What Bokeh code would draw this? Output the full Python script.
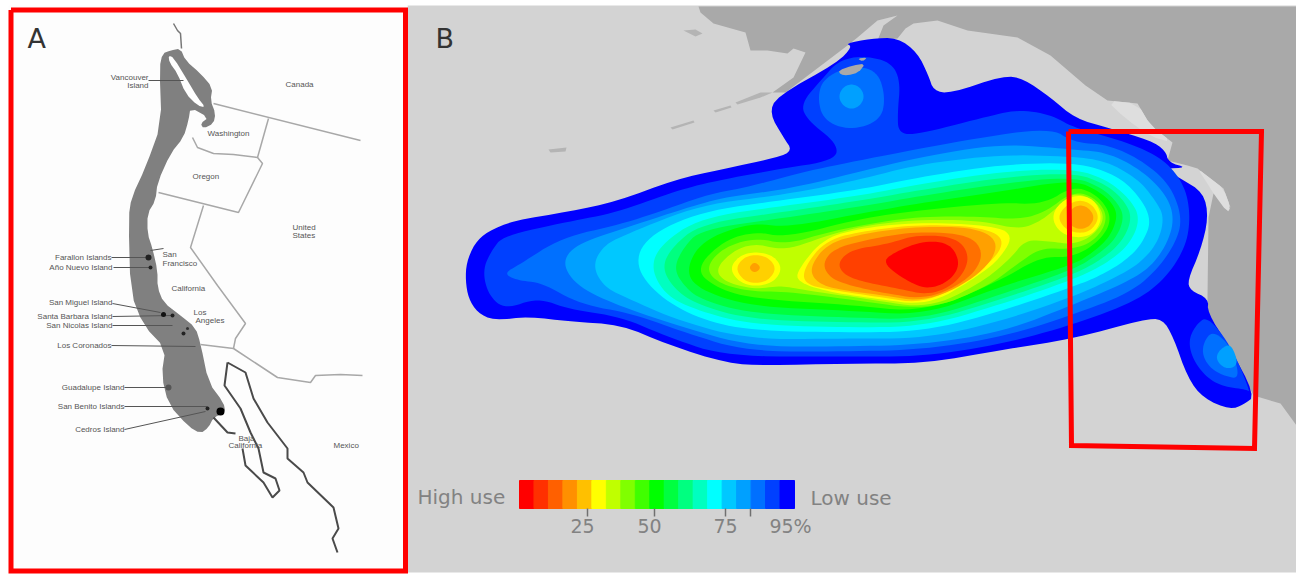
from bokeh.plotting import figure
from bokeh.models import Range1d
from bokeh.core.properties import value
from bokeh.embed import file_html
from bokeh.resources import INLINE

# ---------- usage bands, outermost (low use) to innermost (high use) ----------
band_colors = ["#0000ff", "#0040ff", "#0070ff", "#00a0ff", "#00c8ff", "#00ffff", "#00ffc0",
               "#00ff80", "#00ff40", "#00ff00", "#40ff00", "#80ff00", "#c0ff00", "#ffff00",
               "#ffd000", "#ffa000", "#ff7000", "#ff4000", "#ff0000"]

band00 = [(465,280),(466,262),(474,243),(487,231),(513,220),(569,211),(616,201),(675,179),(720,169),(777,157),(792,150),(783,137),(769,113),(776,96),(837,62),(852,46),(845,43),(870,38),(897,37),(917,52),(928,75),(933,90),(950,93),(1003,75),(1023,78),(1050,97),(1075,118),(1107,127),(1150,140),(1165,150),(1168,162),(1187,167),(1163,168),(1180,178),(1203,192),(1208,217),(1200,250),(1187,280),(1190,290),(1208,298),(1207,312),(1227,343),(1255,395),(1243,404),(1230,409),(1203,398),(1187,377),(1173,337),(1162,318),(1143,319),(1073,338),(1004,349),(924,363),(845,363),(766,365),(727,363),(667,344),(620,324),(569,321),(529,316),(493,320),(477,312),(468,298)]
band01 = [(482,270),(491,250),(503,235),(569,221),(616,212),(671,192),(707,182),(775,169),(835,160),(837,143),(807,120),(800,103),(823,77),(837,61),(860,55),(890,61),(900,80),(897,113),(898,133),(917,134),(983,117),(1017,109),(1050,114),(1073,127),(1107,136),(1140,147),(1167,162),(1185,187),(1190,217),(1185,247),(1165,278),(1135,301),(1073,324),(1004,343),(924,356),(845,356),(727,356),(671,338),(620,316),(569,309),(537,297),(505,309),(488,295)]
band02 = [(503,273),(519,264),(561,237),(620,224),(671,207),(707,194),(750,186),(800,172),(863,159),(967,139),(1050,127),(1073,142),(1107,144),(1140,159),(1169,183),(1182,217),(1175,243),(1155,271),(1128,293),(1073,314),(1004,336),(924,349),(845,351),(747,351),(687,333),(632,313),(580,304),(541,282),(517,280)]
band03 = [(561,263),(575,244),(620,229),(687,207),(727,196),(786,189),(860,171),(917,157),(1000,143),(1073,149),(1107,152),(1140,169),(1165,193),(1174,217),(1167,243),(1149,268),(1121,284),(1073,304),(1004,331),(924,344),(845,346),(750,346),(680,326),(620,306),(578,287)]
band04 = [(592,265),(603,245),(625,234),(700,204),(786,194),(860,179),(917,164),(1000,154),(1073,156),(1107,161),(1138,179),(1155,200),(1164,217),(1157,243),(1138,264),(1111,279),(1073,296),(1000,321),(924,338),(845,338),(750,339),(680,321),(625,297),(603,286)]
band05 = [(634,265),(646,236),(700,211),(786,199),(860,189),(917,177),(1000,164),(1073,162),(1107,171),(1131,186),(1152,217),(1142,243),(1124,261),(1098,276),(1073,286),(1000,311),(924,331),(845,332),(750,330),(700,319),(658,296)]
band06 = [(650,268),(660,244),(700,217),(786,205),(860,195),(917,184),(1000,171),(1073,168),(1106,179),(1128,197),(1140,217),(1130,243),(1106,263),(1073,279),(1000,304),(924,326),(845,327),(750,324),(700,311),(666,296)]
band07 = [(661,268),(671,247),(700,223),(786,211),(860,200),(917,190),(1000,177),(1073,172),(1104,183),(1123,199),(1132,217),(1122,241),(1101,259),(1073,274),(1000,299),(924,322),(845,322),(750,319),(700,305),(676,291)]
band08 = [(673,268),(683,247),(700,229),(786,217),(860,206),(917,196),(1000,183),(1073,176),(1101,187),(1117,202),(1124,217),(1115,239),(1096,255),(1073,269),(1000,294),(924,319),(845,317),(750,313),(700,299),(684,286)]
band09 = [(685,270),(701,240),(750,222),(786,227),(860,213),(917,203),(1000,191),(1073,179),(1099,191),(1113,204),(1117,217),(1109,237),(1091,253),(1073,264),(1000,286),(924,315),(845,310),(750,306),(698,289)]
band10 = [(695,268),(723,240),(755,231),(786,237),(860,218),(917,210),(1000,202),(1043,204),(1073,185),(1098,195),(1112,217),(1101,239),(1073,257),(1040,256),(1000,280),(924,312),(845,304),(750,298),(713,286)]
band11 = [(705,268),(721,248),(754,237),(786,244),(826,232),(865,224),(917,216),(980,216),(1015,219),(1043,213),(1073,190),(1096,198),(1108,217),(1096,239),(1073,249),(1040,247),(1015,265),(985,287),(928,310),(850,299),(786,291),(750,291),(718,283)]
band12 = [(715,268),(733,250),(754,243),(780,249),(800,245),(826,235),(865,225),(917,219),(980,220),(1018,229),(1040,221),(1060,204),(1073,192),(1094,199),(1105,217),(1093,235),(1073,244),(1050,241),(1025,239),(1010,258),(980,283),(928,308),(870,299),(800,289),(780,285),(754,289),(723,281)]
band13 = [(798,268),(824,237),(865,227),(917,222),(980,224),(1014,232),(1000,258),(974,278),(928,305),(873,298),(826,291),(796,281)]
band14 = [(804,266),(826,239),(867,230),(917,224),(978,226),(1006,238),(990,264),(928,304),(875,296),(828,289),(803,283)]
band15 = [(810,265),(828,242),(869,232),(917,226),(977,227),(1000,243),(982,273),(928,302),(877,294),(830,288),(813,279)]
band16 = [(822,262),(835,247),(877,237),(917,231),(969,234),(984,253),(970,278),(928,299),(885,293),(845,284),(828,276)]
band17 = [(837,262),(851,249),(885,244),(917,234),(957,237),(970,257),(958,281),(930,295),(897,288),(861,281),(843,274)]
band18 = [(881,262),(895,251),(924,240),(950,243),(960,263),(950,280),(928,289),(907,281)]

# separate local peaks
west_peak_13 = [(729,268),(739,255),(755,251),(773,255),(782,268),(773,282),(755,286),(739,282)]
west_peak_14 = [(735,268),(743,257),(755,254),(768,257),(776,268),(768,280),(755,283),(743,280)]
west_peak_15 = [(748,267),(754,261),(761,267),(754,273)]
east_peak_13 = [(1051,217),(1059,202),(1077,194),(1094,199),(1102,217),(1094,233),(1077,238),(1059,232)]
east_peak_14 = [(1057,217),(1065,205),(1079,199),(1092,204),(1099,217),(1091,230),(1079,233),(1065,229)]
east_peak_15 = [(1066,217),(1071,208),(1080,204),(1089,208),(1094,217),(1089,226),(1080,229),(1071,226)]

gyre_n_2 = [(817,97),(823,78),(850,65),(877,70),(885,97),(880,120),(850,130),(823,120)]
gyre_n_3 = [(838,96),(842,87),(851,83),(860,87),(864,96),(860,105),(851,109),(842,105)]
gyre_s_1 = [(1207,315),(1195,325),(1188,340),(1192,358),(1205,376),(1222,386),(1246,389),(1250,392),(1232,348)]
gyre_s_2 = [(1212,330),(1203,342),(1202,355),(1210,368),(1225,376),(1240,378),(1230,345)]
gyre_s_3 = [(1225,345),(1217,352),(1216,360),(1224,368),(1234,367),(1237,360),(1231,345)]

# ---------- panel B geography ----------
land = [(698,6),(700,12),(713,23),(745,32),(750,50),(767,50),(787,53),(793,48),(805,52),(793,77),(772,92),(785,92),(847,45),(857,37),(877,20),(897,15),(883,25),(877,40),(897,38),(905,28),(913,23),(937,20),(967,30),(1017,37),(1050,55),(1085,85),(1107,100),(1137,103),(1150,125),(1172,142),(1167,160),(1187,165),(1197,168),(1210,178),(1223,188),(1230,207),(1213,193),(1208,217),(1207,297),(1207,312),(1227,343),(1253,395),(1280,403),(1296,425),(1296,6)]
inland_strip = [(1197,168),(1210,178),(1223,188),(1230,207),(1227,212),(1213,193),(1205,180)]
vancouver_strip = [(1106,100),(1137,103),(1150,125),(1172,142),(1150,136),(1125,118)]
island_pieces = [[(683,30),(695,29),(702,33),(695,36)], [(713,110),(730,105),(731,107),(715,112)], [(670,127),(693,120),(694,122),(672,129)], [(735,102),(760,92),(772,92),(760,97),(737,104)], [(548,149),(566,147),(565,151),(550,152)]]
kodiak = [(838,70),(852,65),(865,63),(858,72),(847,75),(840,74)]
afognak = [(857,58),(867,57),(862,61)]
box_b = [(1068,131),(1261,131),(1254,448),(1071,445),(1068,131)]

# ---------- legend ----------
legend_colors = ["#ff0000", "#ff3000", "#ff6000", "#ff9000", "#ffc000", "#ffff00", "#c0ff00", "#80ff00", "#40ff00", "#00ff00", "#00ff40", "#00ff80", "#00ffc0", "#00ffff", "#00c8ff", "#00a0ff", "#0070ff", "#0040ff", "#0000ff"]
legend_ticks = ["25", "50", "75", "95%"]
legend_tick_x = [582, 649, 725, 790]
legend_mark_x = [587, 654, 725, 750]

# ---------- panel A ----------
sea_range = [(170,50),(180,48),(185,60),(200,73),(212,87),(210,100),(215,113),(213,123),(203,128),(200,123),(208,117),(190,107),(188,120),(183,137),(170,153),(157,182),(155,200),(147,213),(147,233),(152,248),(157,270),(157,287),(163,302),(180,315),(195,327),(200,343),(208,382),(223,402),(225,412),(213,417),(208,427),(200,433),(188,426),(168,404),(161,375),(165,348),(143,325),(130,292),(128,217),(131,197),(145,167),(161,123),(159,67),(162,53)]
vancouver_island = [(168,55),(173,57),(187,80),(197,97),(205,107),(197,105),(185,93),(177,73),(169,62)]
north_coast = [(173,23),(177,30),(180,33),(181,48)]
border_lines = [
    [(213,103),(360,140)],
    [(268,118),(257,157)],
    [(192,137),(197,147),(213,153),(233,154),(257,157),(262,163),(238,212),(158,192)],
    [(203,205),(190,247),(217,285),(245,323),(235,338),(233,348)],
    [(200,344),(233,348),(277,377),(310,382),(315,375),(340,374),(362,375)],
]
baja_outer = [(227,362),(245,372),(253,398),(267,422),(287,448),(287,458),(303,472),(307,482),(333,507),(338,528),(332,538),(337,552)]
baja_inner = [(227,362),(224,385),(240,408),(250,432),(258,448),(263,472),(275,478),(279,490),(272,497),(263,482),(245,465),(242,448)]
baja_coast = [(213,417),(227,432),(235,433)]
leader_lines = [
    [(148,80),(183,80)], [(111,257),(150,257)], [(113,267),(150,267)], [(112,303),(160,312)],
    [(112,316),(172,315)], [(112,325),(172,325)], [(111,345),(195,346)], [(124,387),(168,387)],
    [(124,406),(207,406)], [(124,429),(205,411)], [(150,250),(163,248)],
]
feature_x = [183, 187, 168, 207, 220, 163, 172, 148, 150]
feature_y = [333, 328, 387, 408, 411, 314, 315, 257, 267]
feature_r = [2, 1.5, 3, 2, 4, 2.5, 2, 3, 2]
feature_c = ["#222222", "#333333", "#555555", "#222222", "#000000", "#111111", "#222222", "#222222", "#222222"]

right_labels = ["Vancouver", "Island", "Farallon Islands", "Año Nuevo Island", "San Miguel Island", "Santa Barbara Island", "San Nicolas Island", "Los Coronados", "Guadalupe Island", "San Benito Islands", "Cedros Island"]
right_x = [148, 148, 111, 112, 112, 112, 112, 111, 124, 124, 124]
right_y = [77, 85, 257, 267, 302, 316, 325, 345, 387, 406, 429]
left_labels = ["Canada", "Washington", "Oregon", "United", "States", "San", "Francisco", "California", "Los", "Angeles", "Baja", "California", "Mexico"]
left_x = [285, 207, 192, 292, 292, 162, 162, 171, 193, 195, 238, 228, 333]
left_y = [84, 133, 176, 227, 235, 254, 263, 288, 312, 320, 438, 445, 445]


def smooth(points, passes=2):
    pts = list(points)
    for _ in range(passes):
        out = []
        for i, (x0, y0) in enumerate(pts):
            x1, y1 = pts[(i + 1) % len(pts)]
            out.append((0.75 * x0 + 0.25 * x1, 0.75 * y0 + 0.25 * y1))
            out.append((0.25 * x0 + 0.75 * x1, 0.25 * y0 + 0.75 * y1))
        pts = out
    return [q[0] for q in pts], [q[1] for q in pts]


def raw(points):
    return [q[0] for q in points], [q[1] for q in points]


p = figure(width=1296, height=574, x_range=Range1d(0, 1296), y_range=Range1d(574, 0),
           output_backend="svg", toolbar_location=None, min_border=0, outline_line_color=None)
p.axis.visible = False
p.grid.visible = False
p.background_fill_color = "#ffffff"
p.border_fill_color = "#ffffff"

OCEAN, LAND, LIGHT = "#d3d3d3", "#a9a9a9", "#dedede"

# panel B
p.quad(left=[407], right=[1296], top=[5], bottom=[572], fill_color=OCEAN, line_color=None)
lx, ly = raw(land)
p.patch(lx, ly, fill_color=LAND, line_color=None)
for piece in [inland_strip, vancouver_strip]:
    x, y = smooth(piece, 1)
    p.patch(x, y, fill_color=LIGHT, line_color=None)
for piece in island_pieces:
    x, y = raw(piece)
    p.patch(x, y, fill_color="#b4b4b4", line_color=None)

bands = [band00, band01, band02, band03, band04, band05, band06, band07, band08, band09, band10,
         band11, band12, band13, band14, band15, band16, band17, band18]
for i, (band, col) in enumerate(zip(bands, band_colors)):
    x, y = smooth(band, 2 if i == 0 else 3)
    p.patch(x, y, fill_color=col, line_color=None)

for shape, idx in [(gyre_n_2, 2), (gyre_n_3, 3), (gyre_s_1, 1), (gyre_s_2, 2), (gyre_s_3, 3),
                   (west_peak_13, 13), (west_peak_14, 14), (west_peak_15, 15),
                   (east_peak_13, 13), (east_peak_14, 14), (east_peak_15, 15)]:
    x, y = smooth(shape, 3)
    p.patch(x, y, fill_color=band_colors[idx], line_color=None)

for shape in [kodiak, afognak]:
    x, y = smooth(shape, 1)
    p.patch(x, y, fill_color="#a9a9a9", line_color=None)

bx, by = raw(box_b)
p.line(bx, by, line_color="#ff0000", line_width=5, line_join="miter")

# legend
n = len(legend_colors)
x0, x1 = 519, 794
lefts = [x0 + (x1 - x0) * i / n for i in range(n)]
rights = [x0 + (x1 - x0) * (i + 1) / n for i in range(n)]
p.quad(left=lefts, right=rights, top=[480] * n, bottom=[508] * n, fill_color=legend_colors, line_color=legend_colors)
p.segment(x0=legend_mark_x, x1=legend_mark_x, y0=[508] * 4, y1=[516] * 4, line_color="#707070", line_width=1.5)
GREY = "#828282"
p.text(x=legend_tick_x, y=[525] * 4, text=legend_ticks, text_align="center", text_baseline="middle",
       text_font=value("DejaVu Sans"), text_font_size="19px", text_color=GREY)
p.text(x=[417, 810], y=[496, 497], text=["High use", "Low use"], text_align="left", text_baseline="middle",
       text_font=value("DejaVu Sans"), text_font_size="20px", text_color=GREY)

# panel A
p.quad(left=[8], right=[407], top=[5], bottom=[574], fill_color="#fdfdfd", line_color=None)
x, y = smooth(sea_range, 1)
p.patch(x, y, fill_color="#808080", line_color=None)
x, y = smooth(vancouver_island, 1)
p.patch(x, y, fill_color="#ffffff", line_color=None)
x, y = raw(north_coast)
p.line(x, y, line_color="#777777", line_width=1.5)
for b in border_lines:
    x, y = raw(b)
    p.line(x, y, line_color="#a8a8a8", line_width=1.5)
for b in [baja_outer, baja_inner, baja_coast]:
    x, y = raw(b)
    p.line(x, y, line_color="#4a4a4a", line_width=2)
for b in leader_lines:
    x, y = raw(b)
    p.line(x, y, line_color="#555555", line_width=1)
p.scatter(feature_x, feature_y, size=[2 * r for r in feature_r], fill_color=feature_c, line_color=None)

p.text(x=right_x, y=right_y, text=right_labels, text_align="right", text_baseline="middle",
       text_font=value("Liberation Sans"), text_font_size="8px", text_color="#555555")
p.text(x=left_x, y=left_y, text=left_labels, text_align="left", text_baseline="middle",
       text_font=value("Liberation Sans"), text_font_size="8px", text_color="#555555")

p.text(x=[27, 435], y=[38, 38], text=["A", "B"], text_align="left", text_baseline="middle",
       text_font=value("DejaVu Sans"), text_font_size="27px", text_color="#333333")

# frame of panel A
p.line([10.5, 405, 405, 10.5, 10.5], [9.5, 9.5, 570.5, 570.5, 9.5], line_color="#ff0000", line_width=5, line_join="miter")

open("out.html", "w").write(file_html(p, INLINE))
